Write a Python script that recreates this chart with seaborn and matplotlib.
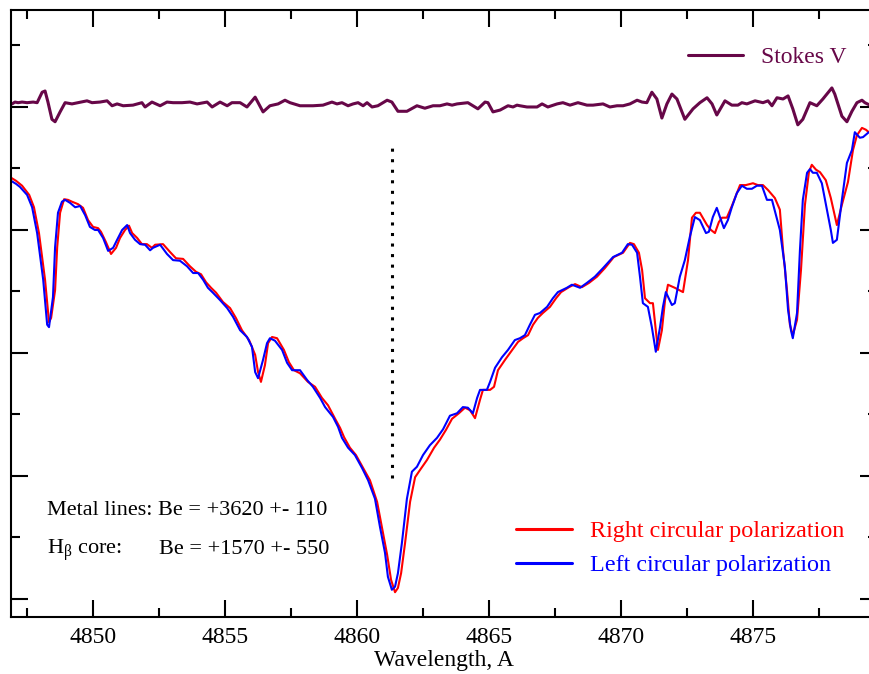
import numpy as np
import pandas as pd
import matplotlib
matplotlib.use("Agg")
import matplotlib.pyplot as plt
from matplotlib.lines import Line2D
from matplotlib.ticker import MultipleLocator
import seaborn as sns

# ---------------- data ----------------
left_wl = [4846.88, 4847.07, 4847.22, 4847.49, 4847.68, 4847.87, 4848.10, 4848.25, 4848.32, 4848.47,
           4848.55, 4848.66, 4848.81, 4848.93, 4849.12, 4849.31, 4849.50, 4849.69, 4849.87, 4850.06,
           4850.18, 4850.37, 4850.56, 4850.75, 4850.90, 4851.09, 4851.28, 4851.39, 4851.58, 4851.77,
           4851.96, 4852.15, 4852.26, 4852.53, 4852.79, 4853.02, 4853.28, 4853.55, 4853.78, 4853.97,
           4854.16, 4854.34, 4854.53, 4854.80, 4855.07, 4855.29, 4855.56, 4855.82, 4856.01, 4856.13,
           4856.24, 4856.43, 4856.58, 4856.69, 4856.88, 4857.15, 4857.34, 4857.53, 4857.83, 4858.10,
           4858.32, 4858.59, 4858.78, 4859.08, 4859.27, 4859.42, 4859.65, 4859.91, 4860.18, 4860.41,
           4860.67, 4860.86, 4861.05, 4861.16, 4861.31, 4861.43, 4861.54, 4861.69, 4861.88, 4862.07,
           4862.26, 4862.49, 4862.75, 4863.02, 4863.25, 4863.51, 4863.78, 4864.00, 4864.19, 4864.38,
           4864.54, 4864.65, 4864.91, 4865.03, 4865.22, 4865.48, 4865.71, 4865.97, 4866.16, 4866.35,
           4866.54, 4866.73, 4866.92, 4867.19, 4867.41, 4867.60, 4867.94, 4868.13, 4868.44, 4868.70,
           4869.00, 4869.31, 4869.69, 4870.03, 4870.25, 4870.41, 4870.60, 4870.71, 4870.82, 4871.01,
           4871.16, 4871.31, 4871.47, 4871.58, 4871.69, 4871.92, 4872.03, 4872.22, 4872.41, 4872.60,
           4872.79, 4872.98, 4873.21, 4873.32, 4873.47, 4873.62, 4873.74, 4873.89, 4874.04, 4874.19,
           4874.38, 4874.57, 4874.76, 4874.95, 4875.14, 4875.33, 4875.52, 4875.71, 4876.01, 4876.20,
           4876.32, 4876.43, 4876.50, 4876.66, 4876.77, 4876.88, 4877.04, 4877.15, 4877.26, 4877.41,
           4877.60, 4877.79, 4877.94, 4878.02, 4878.17, 4878.36, 4878.55, 4878.74, 4878.85, 4879.04,
           4879.16, 4879.38]
left_flux = [1.080, 1.075, 1.070, 1.057, 1.037, 0.995, 0.919, 0.846, 0.842, 0.891,
             0.972, 1.028, 1.046, 1.049, 1.044, 1.037, 1.039, 1.024, 1.005, 1.000,
             1.000, 0.987, 0.966, 0.971, 0.984, 1.000, 1.008, 0.995, 0.984, 0.977,
             0.976, 0.967, 0.971, 0.976, 0.961, 0.951, 0.950, 0.941, 0.930, 0.930,
             0.919, 0.906, 0.898, 0.886, 0.873, 0.859, 0.837, 0.826, 0.810, 0.769,
             0.759, 0.789, 0.816, 0.824, 0.820, 0.805, 0.784, 0.772, 0.772, 0.756,
             0.745, 0.727, 0.712, 0.696, 0.680, 0.662, 0.646, 0.634, 0.613, 0.593,
             0.563, 0.517, 0.475, 0.436, 0.415, 0.420, 0.442, 0.491, 0.563, 0.607,
             0.615, 0.634, 0.650, 0.662, 0.676, 0.698, 0.702, 0.712, 0.711, 0.702,
             0.727, 0.740, 0.740, 0.753, 0.776, 0.793, 0.805, 0.821, 0.824, 0.829,
             0.846, 0.862, 0.865, 0.875, 0.889, 0.899, 0.906, 0.911, 0.906, 0.914,
             0.924, 0.938, 0.956, 0.963, 0.977, 0.976, 0.963, 0.924, 0.881, 0.875,
             0.842, 0.802, 0.842, 0.875, 0.899, 0.878, 0.881, 0.924, 0.951, 0.989,
             1.021, 1.016, 0.995, 0.997, 1.021, 1.036, 1.021, 1.003, 1.016, 1.037,
             1.060, 1.072, 1.067, 1.067, 1.072, 1.072, 1.049, 1.049, 1.000, 0.940,
             0.870, 0.837, 0.824, 0.865, 0.967, 1.049, 1.093, 1.099, 1.093, 1.093,
             1.076, 1.033, 1.000, 0.979, 0.984, 1.049, 1.109, 1.130, 1.159, 1.150,
             1.151, 1.159]

right_wl = [4846.88, 4847.07, 4847.30, 4847.57, 4847.75, 4847.94, 4848.17, 4848.32, 4848.40, 4848.55,
            4848.63, 4848.74, 4848.89, 4849.04, 4849.19, 4849.42, 4849.61, 4849.80, 4849.99, 4850.18,
            4850.29, 4850.48, 4850.67, 4850.86, 4851.01, 4851.20, 4851.35, 4851.47, 4851.66, 4851.84,
            4852.03, 4852.22, 4852.34, 4852.64, 4852.91, 4853.13, 4853.40, 4853.66, 4853.89, 4854.08,
            4854.27, 4854.46, 4854.65, 4854.91, 4855.18, 4855.40, 4855.63, 4855.90, 4856.13, 4856.24,
            4856.35, 4856.50, 4856.62, 4856.77, 4856.96, 4857.22, 4857.41, 4857.60, 4857.83, 4858.13,
            4858.40, 4858.66, 4858.89, 4859.16, 4859.35, 4859.50, 4859.72, 4859.95, 4860.22, 4860.48,
            4860.75, 4860.94, 4861.13, 4861.28, 4861.43, 4861.54, 4861.66, 4861.81, 4862.00, 4862.19,
            4862.38, 4862.64, 4862.91, 4863.13, 4863.36, 4863.59, 4863.85, 4864.08, 4864.27, 4864.46,
            4864.65, 4864.76, 4865.03, 4865.18, 4865.33, 4865.60, 4865.82, 4866.09, 4866.28, 4866.47,
            4866.66, 4866.84, 4867.03, 4867.30, 4867.53, 4867.72, 4868.02, 4868.25, 4868.51, 4868.78,
            4869.08, 4869.38, 4869.72, 4870.07, 4870.33, 4870.48, 4870.67, 4870.79, 4870.90, 4871.09,
            4871.20, 4871.31, 4871.39, 4871.54, 4871.66, 4871.77, 4872.03, 4872.34, 4872.53, 4872.68,
            4872.83, 4872.98, 4873.25, 4873.40, 4873.55, 4873.70, 4873.82, 4874.00, 4874.19, 4874.50,
            4874.72, 4874.99, 4875.18, 4875.37, 4875.56, 4875.82, 4876.01, 4876.13, 4876.28, 4876.39,
            4876.50, 4876.66, 4876.81, 4876.96, 4877.11, 4877.22, 4877.38, 4877.53, 4877.75, 4877.94,
            4878.17, 4878.36, 4878.59, 4878.78, 4878.93, 4879.12, 4879.27, 4879.38]
right_flux = [1.085, 1.080, 1.072, 1.057, 1.037, 0.995, 0.919, 0.850, 0.857, 0.902,
              0.972, 1.028, 1.050, 1.049, 1.046, 1.042, 1.036, 1.016, 1.005, 1.003,
              0.997, 0.980, 0.961, 0.971, 0.987, 1.000, 1.007, 0.995, 0.987, 0.977,
              0.977, 0.971, 0.976, 0.977, 0.964, 0.954, 0.953, 0.941, 0.932, 0.928,
              0.915, 0.906, 0.898, 0.883, 0.873, 0.857, 0.837, 0.821, 0.797, 0.769,
              0.753, 0.780, 0.816, 0.826, 0.824, 0.805, 0.785, 0.772, 0.767, 0.753,
              0.745, 0.727, 0.715, 0.693, 0.678, 0.663, 0.646, 0.634, 0.613, 0.593,
              0.558, 0.515, 0.472, 0.431, 0.411, 0.418, 0.442, 0.491, 0.558, 0.598,
              0.610, 0.626, 0.646, 0.659, 0.675, 0.693, 0.702, 0.711, 0.707, 0.694,
              0.724, 0.740, 0.740, 0.745, 0.772, 0.789, 0.802, 0.818, 0.824, 0.829,
              0.846, 0.857, 0.865, 0.875, 0.889, 0.899, 0.907, 0.912, 0.907, 0.914,
              0.924, 0.938, 0.956, 0.963, 0.979, 0.977, 0.963, 0.935, 0.889, 0.881,
              0.881, 0.837, 0.805, 0.837, 0.886, 0.911, 0.906, 0.899, 0.951, 1.020,
              1.028, 1.028, 1.008, 1.000, 0.995, 1.013, 1.020, 1.020, 1.039, 1.073,
              1.073, 1.076, 1.073, 1.073, 1.065, 1.052, 1.033, 0.967, 0.902, 0.846,
              0.829, 0.854, 0.935, 1.041, 1.094, 1.106, 1.098, 1.094, 1.081, 1.052,
              1.008, 1.041, 1.078, 1.130, 1.154, 1.166, 1.163, 1.159]

stokes_wl = [4846.92, 4847.03, 4847.15, 4847.30, 4847.49, 4847.72, 4847.87, 4848.06, 4848.17, 4848.28,
             4848.43, 4848.55, 4848.74, 4848.93, 4849.19, 4849.42, 4849.76, 4849.95, 4850.25, 4850.52,
             4850.71, 4850.90, 4851.13, 4851.50, 4851.84, 4851.96, 4852.22, 4852.53, 4852.79, 4853.02,
             4853.36, 4853.66, 4853.93, 4854.31, 4854.50, 4854.80, 4855.07, 4855.25, 4855.56, 4855.82,
             4856.13, 4856.43, 4856.69, 4857.00, 4857.26, 4857.45, 4857.83, 4858.32, 4858.70, 4859.04,
             4859.23, 4859.42, 4859.65, 4859.84, 4860.03, 4860.22, 4860.37, 4860.56, 4860.78, 4861.13,
             4861.31, 4861.54, 4861.88, 4862.26, 4862.56, 4862.87, 4863.13, 4863.40, 4863.59, 4863.78,
             4864.19, 4864.57, 4864.84, 4864.95, 4865.14, 4865.41, 4865.71, 4865.90, 4866.05, 4866.16,
             4866.43, 4866.81, 4867.00, 4867.22, 4867.57, 4867.79, 4868.06, 4868.36, 4868.70, 4868.93,
             4869.31, 4869.57, 4869.84, 4870.07, 4870.33, 4870.60, 4870.79, 4870.97, 4871.16, 4871.35,
             4871.54, 4871.73, 4871.92, 4872.11, 4872.41, 4872.72, 4872.98, 4873.25, 4873.44, 4873.62,
             4873.93, 4874.19, 4874.42, 4874.57, 4874.76, 4875.07, 4875.37, 4875.56, 4875.71, 4875.90,
             4876.13, 4876.32, 4876.50, 4876.69, 4876.88, 4877.15, 4877.41, 4877.64, 4877.98, 4878.09,
             4878.36, 4878.55, 4878.74, 4878.93, 4879.12, 4879.23, 4879.42]
stokes_v = [0.005, 0.008, 0.007, 0.008, 0.007, 0.008, 0.007, 0.024, 0.026, 0.008,
            -0.020, -0.024, -0.008, 0.007, 0.005, 0.007, 0.010, 0.007, 0.008, 0.010,
            0.002, 0.005, 0.002, 0.003, 0.007, 0.000, 0.008, 0.002, 0.008, 0.007,
            0.007, 0.008, 0.005, 0.008, 0.000, 0.008, 0.002, 0.007, 0.007, 0.000,
            0.016, -0.008, 0.002, 0.005, 0.011, 0.007, 0.002, 0.002, 0.003, 0.008,
            0.005, 0.007, 0.002, 0.005, 0.007, 0.002, 0.007, 0.000, 0.002, 0.011,
            0.008, -0.007, -0.007, 0.002, -0.002, 0.002, 0.002, 0.005, 0.003, 0.005,
            0.007, -0.003, 0.008, 0.007, -0.008, -0.005, 0.002, 0.000, 0.003, 0.002,
            0.000, 0.000, 0.005, 0.000, 0.005, 0.007, 0.003, 0.007, 0.003, 0.003,
            0.005, 0.000, 0.002, 0.002, 0.005, 0.011, 0.008, 0.007, 0.024, 0.013,
            -0.018, 0.005, 0.021, 0.013, -0.020, -0.003, 0.007, 0.015, 0.005, -0.013,
            0.010, 0.003, 0.003, 0.007, 0.005, 0.010, 0.007, 0.010, 0.002, 0.015,
            0.013, 0.018, -0.003, -0.029, -0.020, 0.007, 0.002, 0.013, 0.031, 0.021,
            -0.015, -0.024, -0.007, 0.007, 0.011, 0.007, 0.003]
stokes_offset = 1.2

hbeta_wl = 4861.33
hbeta_marker_range = [0.597, 1.138]

legend_labels = ["Stokes V", "Right circular polarization", "Left circular polarization"]
note_metal = "Metal lines: Be = +3620 +- 110"
note_core_label = r"H$_{\mathrm{\beta}}$ core:"
note_core_value = "Be = +1570 +- 550"

# ---------------- style ----------------
sns.set_theme(style="ticks")
plt.rcParams["font.family"] = ["Liberation Serif", "DejaVu Serif"]
plt.rcParams["mathtext.fontset"] = "custom"
plt.rcParams["mathtext.rm"] = "Liberation Serif"
plt.rcParams["mathtext.it"] = "Liberation Serif:italic"
plt.rcParams["mathtext.bf"] = "Liberation Serif:bold"

RED = "#ff0000"
BLUE = "#0000ff"
MAROON = "#670748"

W, H = 870, 674
fig = plt.figure(figsize=(W / 100, H / 100), dpi=100)
ax = fig.add_axes([11 / W, 57 / H, 866 / W, 607 / H])

df_r = pd.DataFrame({"wl": right_wl, "flux": right_flux})
df_l = pd.DataFrame({"wl": left_wl, "flux": left_flux})
df_v = pd.DataFrame({"wl": stokes_wl, "v": np.array(stokes_v) + stokes_offset})

sns.lineplot(data=df_r, x="wl", y="flux", color=RED, lw=1.5, sort=False, estimator=None, ax=ax)
sns.lineplot(data=df_l, x="wl", y="flux", color=BLUE, lw=1.5, sort=False, estimator=None, ax=ax)
sns.lineplot(data=df_v, x="wl", y="v", color=MAROON, lw=2.2, sort=False, estimator=None, ax=ax)

ax.vlines(hbeta_wl, hbeta_marker_range[0], hbeta_marker_range[1], colors="black",
          linewidth=2.2, linestyles=(0, (1, 2.45)))

ax.set_xlim(4846.88, 4879.69)
ax.set_ylim(0.3707, 1.3577)

ax.xaxis.set_major_locator(MultipleLocator(5))
ax.xaxis.set_minor_locator(MultipleLocator(2.5))
ax.yaxis.set_major_locator(MultipleLocator(0.2))
ax.yaxis.set_minor_locator(MultipleLocator(0.1))
ax.tick_params(which="both", direction="in", top=True, right=True, width=1.5, color="black")
ax.tick_params(which="major", length=12.2)
ax.tick_params(which="minor", length=6.5)
ax.tick_params(axis="x", which="major", labelsize=17, pad=7, labelcolor="black")
ax.tick_params(axis="y", labelleft=False)
for s in ax.spines.values():
    s.set_visible(True)
    s.set_linewidth(1.5)
    s.set_color("black")

ax.set_ylabel("")
ax.set_xlabel("Wavelength, A", fontsize=17, color="black", labelpad=1.5)

ax.text(4848.25, 0.537, note_metal, fontsize=16, color="black", va="baseline", ha="left")
ax.text(4848.25, 0.473, note_core_label, fontsize=16, color="black", va="baseline", ha="left")
ax.text(4852.50, 0.473, note_core_value, fontsize=16, color="black", va="baseline", ha="left")

h_v = Line2D([], [], color=MAROON, lw=2.2)
h_r = Line2D([], [], color=RED, lw=2.2)
h_l = Line2D([], [], color=BLUE, lw=2.2)

leg1 = ax.legend([h_v], [legend_labels[0]], loc="center left",
                 bbox_to_anchor=(688 / W, 1 - 57 / H), bbox_transform=fig.transFigure,
                 frameon=False, borderpad=0, borderaxespad=0, handlelength=2.33,
                 handletextpad=0.75, fontsize=17, labelcolor="linecolor")
ax.add_artist(leg1)
leg2 = ax.legend([h_r, h_l], legend_labels[1:], loc="center left",
                 bbox_to_anchor=(516 / W, 1 - 548.5 / H), bbox_transform=fig.transFigure,
                 frameon=False, borderpad=0, borderaxespad=0, handlelength=2.3,
                 handletextpad=0.78, labelspacing=0.5, fontsize=17.4, labelcolor="linecolor")

fig.savefig("out.png", dpi=100)
